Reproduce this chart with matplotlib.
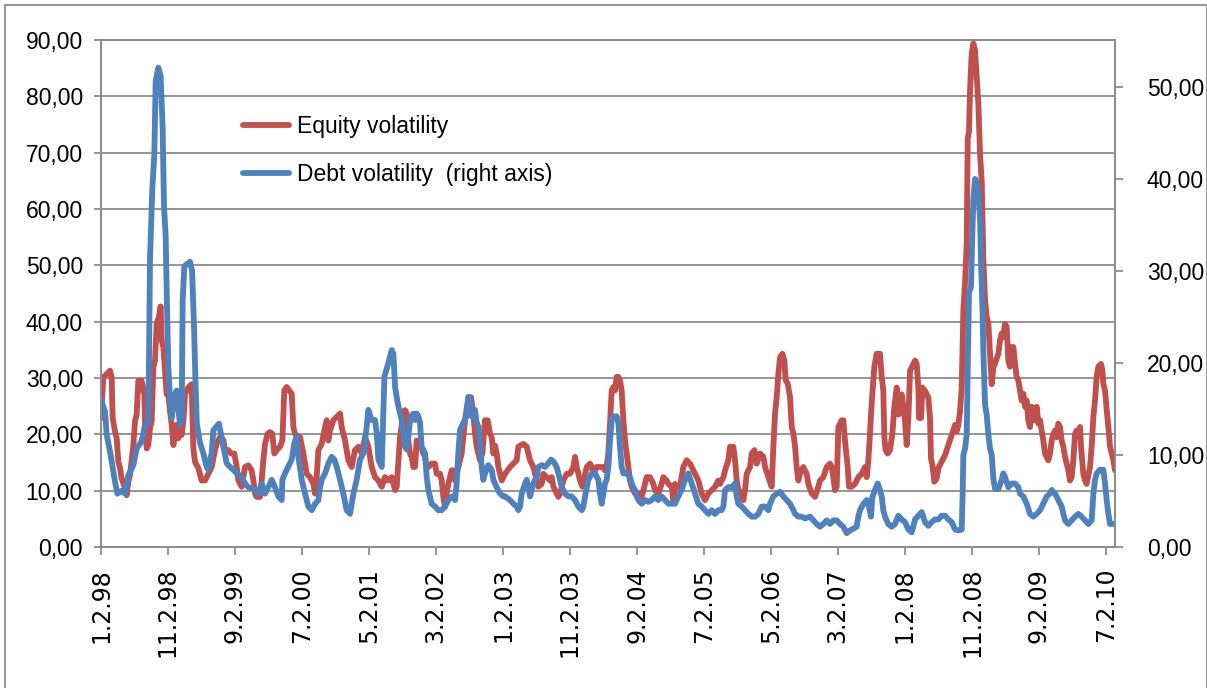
import matplotlib
matplotlib.use("Agg")
import matplotlib.pyplot as plt
import matplotlib.dates as mdates
from matplotlib.ticker import FuncFormatter, FixedLocator
from matplotlib.patches import Rectangle
import pandas as pd
import numpy as np

# ---------------- data (time in months since 2 Jan 1998) ----------------
equity_t = [0.0, 0.35, 0.85, 1.34, 1.59, 1.74, 2.09, 2.34, 2.59, 2.84, 3.08, 3.58, 3.83, 4.08, 4.33,
            4.83, 5.07, 5.32, 5.57, 6.07, 6.47, 6.57, 6.82, 7.06, 7.31, 7.56, 7.81, 8.06, 8.31, 8.66,
            8.9, 9.05, 9.3, 9.55, 9.8, 10.05, 10.3, 10.55, 10.8, 11.04, 11.29, 11.54, 11.79, 12.04,
            12.29, 12.54, 13.03, 13.53, 13.78, 14.03, 14.53, 15.02, 15.52, 16.02, 16.52, 17.01,
            17.26, 17.76, 18.26, 18.51, 19.0, 19.4, 19.9, 20.25, 20.5, 21.0, 21.49, 21.99, 22.49,
            22.74, 22.99, 23.23, 23.73, 23.98, 24.23, 24.48, 24.88, 25.22, 25.57, 25.87, 26.22,
            26.72, 27.07, 27.36, 27.71, 28.46, 28.71, 28.96, 29.45, 29.71, 30.2, 30.7, 31.2, 31.7,
            31.95, 32.19, 32.44, 32.94, 33.44, 33.69, 33.93, 34.18, 34.68, 35.18, 35.68, 35.92,
            36.42, 36.92, 37.42, 37.91, 38.41, 38.91, 39.41, 39.9, 40.4, 40.9, 41.4, 41.9, 42.39,
            42.89, 43.39, 43.89, 44.13, 44.63, 45.12, 45.37, 45.62, 45.87, 46.12, 46.37, 46.62,
            46.87, 47.11, 47.61, 48.11, 48.36, 48.61, 48.86, 49.35, 49.85, 50.1, 50.6, 50.85, 51.09,
            51.34, 51.59, 51.84, 52.34, 52.59, 52.84, 53.33, 53.83, 54.08, 54.33, 54.83, 55.22,
            55.57, 55.82, 56.07, 56.57, 56.92, 57.31, 57.71, 58.06, 58.31, 58.56, 58.81, 59.06,
            59.31, 59.8, 60.3, 61.05, 61.55, 62.04, 62.29, 63.04, 63.54, 64.03, 64.53, 64.78, 65.03,
            65.28, 65.78, 66.02, 66.52, 67.02, 67.27, 67.52, 68.01, 68.26, 68.51, 69.01, 69.51, 70.0,
            70.5, 70.75, 71.0, 71.5, 71.84, 72.14, 72.49, 72.99, 73.24, 73.49, 73.98, 74.48, 74.98,
            75.22, 75.47, 75.72, 75.97, 76.22, 76.47, 76.72, 76.96, 77.21, 77.46, 77.71, 77.96,
            78.21, 78.46, 78.71, 78.95, 79.2, 79.7, 80.2, 80.7, 81.19, 81.44, 81.94, 82.44, 82.69,
            83.18, 83.68, 83.93, 84.43, 84.68, 85.17, 85.42, 85.67, 85.92, 86.42, 86.91, 87.41,
            87.91, 88.16, 88.66, 89.16, 89.65, 90.15, 90.65, 91.15, 91.65, 92.14, 92.39, 92.89,
            93.14, 93.63, 93.88, 94.38, 94.63, 94.88, 95.13, 95.63, 95.87, 96.12, 96.37, 96.87,
            97.12, 97.52, 97.86, 98.36, 98.86, 99.11, 99.6, 100.1, 100.35, 100.6, 100.85, 101.1,
            101.35, 101.7, 101.99, 102.19, 102.49, 102.84, 103.09, 103.34, 103.59, 103.83, 104.08,
            104.33, 104.82, 105.32, 105.57, 106.07, 106.57, 107.06, 107.31, 107.81, 108.31, 108.8,
            109.05, 109.3, 109.55, 109.8, 110.05, 110.55, 110.79, 111.04, 111.44, 111.64, 112.04,
            112.54, 113.03, 113.53, 114.03, 114.28, 114.53, 114.77, 115.02, 115.42, 115.77, 116.27,
            116.52, 116.76, 116.91, 117.11, 117.41, 117.76, 118.11, 118.41, 118.76, 119.01, 119.26,
            119.5, 119.75, 120.0, 120.25, 120.5, 120.75, 121.0, 121.25, 121.5, 121.74, 121.99,
            122.09, 122.39, 122.59, 122.99, 123.49, 123.73, 123.88, 124.08, 124.38, 124.73, 124.98,
            125.23, 125.72, 125.97, 126.47, 126.97, 127.47, 127.71, 127.96, 128.21, 128.46, 128.71,
            128.96, 129.21, 129.36, 129.55, 129.7, 129.95, 130.2, 130.45, 130.7, 130.95, 131.2,
            131.45, 131.69, 131.94, 132.19, 132.44, 132.69, 132.94, 133.19, 133.44, 133.93, 134.18,
            134.43, 134.67, 134.92, 135.17, 135.42, 135.67, 135.92, 136.17, 136.42, 136.66, 136.91,
            137.16, 137.41, 137.66, 137.91, 138.16, 138.4, 138.65, 138.9, 139.15, 139.4, 139.65,
            139.9, 140.15, 140.4, 140.64, 140.89, 141.14, 141.39, 141.64, 141.89, 142.14, 142.39,
            142.63, 142.88, 143.13, 143.38, 143.63, 143.88, 144.13, 144.38, 144.62, 144.87, 145.12,
            145.37, 145.62, 145.87, 146.12, 146.27, 146.61, 146.86, 147.11, 147.61, 147.86, 148.11,
            148.36, 148.6, 148.85, 149.25, 149.45, 149.6, 149.85, 150.1, 150.35, 150.6, 150.85,
            151.1, 151.34]
equity_vol = [22.9, 30.1, 30.7, 31.3, 30.1, 22.9, 20.5, 19.3, 15.1, 14.0, 12.2, 10.4, 9.2, 11.6, 12.8,
              18.1, 22.3, 23.5, 29.5, 29.5, 27.1, 22.3, 17.5, 18.1, 21.1, 22.3, 31.9, 33.1, 39.7, 40.9,
              42.7, 36.7, 35.5, 31.3, 27.1, 27.1, 24.1, 21.7, 18.1, 19.9, 21.7, 19.3, 20.5, 19.9,
              22.3, 27.1, 28.3, 28.9, 17.5, 15.1, 14.0, 11.8, 11.8, 13.0, 14.2, 17.2,
              18.3, 19.5, 19.0, 17.2, 17.2, 16.6, 16.6, 14.2, 11.8, 10.7, 14.2, 14.5, 13.6,
              11.8, 9.5, 8.9, 8.9, 11.8, 15.4, 18.3, 20.1, 20.4, 20.1, 16.6, 17.2,
              17.8, 18.9, 27.8, 28.4, 27.2, 21.3, 20.1, 19.5, 19.5, 16.6, 13.0, 12.4, 11.2,
              9.5, 12.4, 17.2, 18.3, 21.3, 22.5, 18.9, 20.7, 22.5, 23.1, 23.7, 21.3,
              18.9, 15.4, 14.2, 17.2, 17.8, 16.6, 19.5, 17.8, 14.2, 12.4, 11.8, 10.7, 12.4,
              11.8, 12.4, 10.1, 10.7, 19.5, 23.7, 24.3, 23.7, 18.9, 16.6, 16.0, 14.2,
              14.2, 18.9, 18.3, 16.6, 16.0, 14.2, 14.2, 14.8, 14.8, 13.0, 13.0, 11.8, 8.9,
              7.1, 9.5, 11.2, 13.6, 13.6, 11.8, 14.2, 16.6, 19.5, 22.5, 26.6, 26.6,
              23.7, 20.1, 17.8, 15.4, 16.6, 22.5, 22.5, 20.1, 19.5, 16.6, 18.0, 16.6,
              14.2, 11.8, 13.0, 14.2, 14.8, 15.4, 17.8, 18.3, 17.8, 15.4, 14.2, 13.0, 11.8,
              10.7, 11.2, 13.0, 12.4, 11.8, 12.4, 10.7, 9.5, 8.9, 9.5, 11.8, 13.0, 13.0,
              14.2, 16.0, 14.2, 11.8, 10.7, 12.4, 14.2, 14.8, 14.2, 13.0, 14.2, 14.2, 14.2,
              13.6, 14.2, 16.6, 21.9, 27.8, 28.4, 27.8, 30.2, 30.2, 29.6, 27.8, 22.5,
              18.9, 16.6, 14.2, 11.8, 10.7, 9.5, 9.5, 8.9, 11.2, 12.4, 12.4, 11.2, 10.1,
              9.5, 11.2, 12.4, 11.8, 11.2, 10.7, 8.3, 11.2, 10.7, 10.7, 14.2, 15.4,
              14.8, 14.2, 13.0, 11.8, 9.5, 8.3, 9.5, 10.1, 10.7, 11.8, 11.2, 12.4,
              13.6, 15.4, 17.8, 17.8, 15.4, 11.8, 10.1, 9.5, 8.3, 10.1, 13.0, 14.2,
              16.6, 17.2, 14.8, 16.6, 16.0, 14.2, 12.4, 10.7, 17.8, 23.7, 26.6, 30.8,
              33.7, 34.3, 33.1, 29.6, 29.0, 26.6, 21.3, 20.1, 17.8, 14.2, 11.8,
              13.0, 14.2, 13.0, 11.2, 9.5, 8.9, 10.7, 11.8, 12.4, 14.2, 14.8,
              14.2, 12.4, 10.1, 10.7, 21.3, 22.5, 22.5, 18.9, 14.2, 10.7, 10.7,
              11.2, 12.4, 13.0, 14.2, 12.4, 15.4, 20.1, 25.4, 32.0, 34.3, 34.3,
              30.2, 27.8, 19.5, 17.2, 16.6, 17.2, 20.1, 24.9, 28.3, 23.5, 25.9,
              27.1, 24.7, 22.3, 18.1, 22.9, 31.3, 31.9, 32.5, 33.1, 32.5, 28.3,
              22.9, 22.9, 28.3, 27.7, 26.5, 22.9, 15.7, 14.6, 11.6, 12.2, 14.0,
              14.6, 15.7, 16.3, 18.1, 19.9, 21.7, 20.5, 21.7, 24.1, 28.3, 42.1,
              46.9, 54.1, 72.6, 73.7, 81.0, 87.6, 89.4, 88.2, 83.4, 78.6, 69.6,
              64.9, 51.1, 43.9, 40.9, 39.7, 34.3, 28.9, 31.9, 32.6, 34.3, 36.7,
              37.9, 37.3, 39.6, 39.1, 33.1, 32.0, 35.5, 35.5, 32.5, 30.2, 29.6,
              27.8, 26.0, 27.2, 24.9, 26.0, 22.5, 21.3, 24.9, 23.7, 22.5, 24.9,
              21.9, 22.5, 20.7, 18.9, 16.6, 16.0, 15.4, 16.6, 18.9, 20.1, 20.7,
              19.5, 21.9, 21.3, 18.9, 17.8, 16.0, 14.8, 13.6, 11.8, 12.4, 15.4,
              20.1, 20.7, 19.5, 21.3, 17.8, 13.0, 11.8, 11.2, 14.2, 17.8, 23.1,
              26.0, 30.2, 32.0, 32.5, 31.4, 29.0, 27.8, 24.3, 21.3, 17.8, 16.6,
              15.4, 13.6]

debt_t = [0.0, 0.6, 0.85, 1.34, 1.59, 2.09, 2.44, 3.08, 3.58, 4.08, 4.83, 5.32, 6.07, 6.57, 7.06,
          7.16, 7.31, 7.66, 7.96, 8.16, 8.56, 8.9, 9.2, 9.4, 9.65, 9.8, 10.05, 10.3, 10.55, 11.04,
          11.29, 11.79, 12.04, 12.19, 12.44, 13.28, 13.6, 13.9, 14.1, 14.3, 14.78, 15.27, 15.77,
          16.02, 16.52, 16.77, 17.26, 17.61, 18.26, 18.76, 19.25, 19.75, 20.25, 21.0, 21.49, 21.99,
          22.99, 23.48, 23.98, 24.48, 24.98, 25.47, 25.97, 26.47, 26.97, 27.07, 27.46, 28.46,
          28.86, 29.2, 29.46, 29.96, 30.45, 30.95, 31.45, 31.95, 32.44, 32.69, 32.94, 33.44, 33.94,
          34.43, 34.83, 35.18, 35.68, 36.17, 36.67, 37.17, 37.67, 38.16, 38.66, 39.16, 39.66,
          39.9, 40.4, 40.9, 41.15, 41.4, 41.9, 42.3, 42.89, 43.39, 43.64, 43.89, 44.13, 44.38,
          44.88, 45.37, 45.62, 45.87, 46.12, 46.62, 46.87, 47.11, 47.36, 47.61, 47.86, 48.36,
          48.61, 48.86, 49.35, 49.85, 50.35, 50.85, 51.34, 51.84, 52.34, 52.84, 53.08, 53.33,
          53.58, 54.08, 54.58, 54.83, 55.07, 55.32, 55.57, 55.82, 56.07, 56.32, 56.57, 56.82,
          57.06, 57.31, 57.81, 58.31, 58.56, 59.05, 59.55, 60.05, 60.3, 61.05, 61.55, 62.04,
          62.29, 62.54, 62.79, 63.29, 63.54, 63.78, 64.03, 64.28, 64.53, 64.78, 65.03, 65.28,
          65.78, 66.27, 66.77, 67.17, 67.52, 68.01, 68.26, 68.51, 68.76, 69.26, 69.75, 70.25,
          70.75, 71.25, 71.75, 72.0, 72.24, 72.74, 73.24, 73.74, 74.23, 74.48, 74.73, 74.97,
          75.22, 75.47, 75.72, 75.97, 76.22, 76.47, 76.96, 77.21, 77.46, 77.71, 77.96, 78.46,
          78.95, 79.2, 79.45, 79.7, 79.95, 80.2, 80.7, 81.19, 81.69, 82.19, 82.69, 83.18, 83.68,
          84.18, 84.68, 85.17, 85.67, 86.17, 86.67, 87.16, 87.66, 88.16, 88.66, 89.16, 89.65,
          90.15, 90.65, 91.15, 91.65, 92.14, 92.64, 92.89, 93.14, 93.63, 94.13, 94.63, 94.88,
          95.13, 95.63, 96.12, 96.62, 97.12, 97.61, 98.11, 98.61, 99.11, 99.6, 99.85, 100.35,
          100.85, 101.35, 101.84, 102.34, 102.84, 103.34, 103.59, 104.08, 104.58, 105.08, 105.82,
          106.32, 106.81, 107.31, 107.81, 108.31, 108.8, 109.3, 109.8, 110.3, 110.79, 111.29,
          111.79, 112.29, 112.78, 113.03, 113.28, 113.78, 114.28, 114.62, 114.92, 115.12, 115.52,
          115.92, 116.27, 116.52, 116.76, 117.01, 117.51, 118.01, 118.51, 119.01, 119.5, 120.0,
          120.5, 121.0, 121.5, 122.0, 122.49, 122.99, 123.49, 123.98, 124.48, 124.98, 125.48,
          125.97, 126.47, 126.97, 127.47, 127.96, 128.46, 128.61, 128.71, 128.96, 129.21, 129.36,
          129.55, 129.85, 130.05, 130.2, 130.45, 130.7, 130.95, 131.2, 131.35, 131.55, 131.69,
          131.94, 132.19, 132.44, 132.69, 132.94, 133.19, 133.44, 133.93, 134.43, 134.67, 134.92,
          135.42, 135.92, 136.42, 136.91, 137.16, 137.66, 138.16, 138.65, 139.15, 139.65, 140.15,
          140.64, 141.14, 141.64, 141.89, 142.39, 142.88, 143.38, 143.63, 143.88, 144.38, 144.87,
          145.37, 145.87, 146.37, 146.86, 147.36, 147.86, 148.11, 148.36, 148.6, 149.1, 149.6,
          149.85, 150.1, 150.35, 150.6, 151.1, 151.34]
debt_vol = [16.0, 14.7, 12.2, 10.4, 9.3, 7.1, 5.8, 6.1, 5.8, 7.8, 8.9, 10.7, 11.5, 13.3, 13.5,
            19.9, 31.2, 38.9, 42.7, 50.6, 52.1, 51.2, 45.5, 37.1, 33.8, 27.9, 19.5, 16.2, 14.0, 16.6,
            17.0, 13.3, 14.0, 26.8, 30.5, 31.0, 30.0, 23.5, 18.0, 13.4, 11.3, 10.2, 8.7,
            8.4, 10.2, 12.7, 13.1, 13.4, 10.9, 9.1, 8.7, 8.4, 8.0, 7.6, 6.9, 6.5,
            6.2, 5.8, 6.9, 5.8, 6.5, 7.3, 6.5, 5.5, 5.1, 7.3, 8.0, 9.5,
            11.3, 12.0, 9.8, 7.3, 5.8, 4.4, 4.0, 4.7, 5.1, 6.5, 7.3, 8.0, 9.1,
            9.8, 9.5, 8.7, 7.3, 5.8, 4.0, 3.6, 5.8, 7.3, 9.5, 10.2, 13.1,
            14.9, 13.8, 13.8, 12.4, 9.5, 8.7, 18.5, 20.0, 21.4, 21.0, 17.4, 16.3, 15.3,
            13.8, 10.9, 10.6, 12.0, 13.8, 14.5, 13.8, 14.5, 14.2, 13.5, 10.9, 10.2,
            7.6, 6.2, 4.7, 4.4, 4.0, 4.0, 4.4, 5.1, 5.5, 5.1, 6.9, 10.2,
            12.7, 13.5, 14.2, 16.3, 16.0, 14.2, 14.5, 14.9, 13.5, 13.1, 10.9, 8.7,
            7.3, 8.0, 8.9, 8.4, 7.3, 6.5, 5.8, 5.5, 5.5, 5.1, 4.7, 4.4,
            4.0, 4.4, 5.8, 6.9, 7.3, 6.5, 5.5, 6.2, 6.9, 7.3, 7.6, 8.7,
            8.9, 8.7, 9.1, 9.5, 9.3, 8.7, 8.0, 7.3, 6.5, 5.8, 5.5, 5.5,
            5.1, 4.4, 4.0, 4.4, 5.5, 7.3, 8.0, 8.0, 7.3, 5.8, 4.7, 5.8,
            6.9, 7.3, 8.7, 11.6, 13.8, 14.2, 14.2, 13.5, 10.9, 8.7, 8.0, 8.0,
            7.6, 6.9, 6.5, 6.2, 5.5, 5.1, 4.7, 5.1, 4.9, 5.1, 5.5, 5.1, 5.5,
            5.1, 4.7, 4.7, 4.7, 5.5, 6.2, 7.3, 8.0, 6.9, 5.8, 4.7, 4.4,
            4.0, 3.6, 4.0, 3.6, 4.0, 4.0, 4.4, 6.2, 6.5, 6.5, 6.9, 5.5,
            4.7, 4.4, 4.0, 3.6, 3.3, 3.3, 3.6, 4.4, 4.4, 4.0, 4.7, 5.5,
            5.8, 6.0, 5.5, 5.1, 4.7, 4.0, 3.6, 3.3, 3.3, 3.1, 3.3,
            2.9, 2.5, 2.2, 2.5, 2.9, 2.5, 2.9, 2.9, 2.5, 2.2, 1.5,
            1.8, 2.0, 2.2, 3.3, 4.0, 4.7, 5.1, 4.4, 3.3, 5.4, 6.2,
            6.9, 6.2, 5.5, 4.0, 3.3, 2.5, 2.2, 2.5, 3.4, 3.0, 2.7,
            1.9, 1.6, 3.0, 3.4, 3.8, 2.7, 2.3, 2.7, 3.0, 3.0, 3.4,
            3.4, 3.0, 2.7, 1.9, 1.8, 1.9, 6.0, 10.0, 10.7, 12.2, 19.5,
            27.6, 28.3, 34.1, 37.8, 40.0, 39.6, 38.5, 35.6, 30.8, 26.1, 21.3,
            15.5, 14.4, 12.2, 10.7, 10.0, 7.4, 6.3, 6.3, 7.3, 8.0, 7.6,
            6.5, 6.9, 6.9, 6.5, 5.8, 5.5, 4.7, 3.6, 3.3, 3.6, 4.0,
            4.7, 5.5, 5.8, 6.2, 5.8, 5.1, 4.4, 3.6, 2.9, 2.5, 2.9,
            3.3, 3.6, 3.3, 2.9, 2.5, 2.9, 5.8, 7.3, 8.0, 8.4, 8.4,
            6.9, 5.1, 3.6, 2.5, 2.5, 2.5]

xtick_labels = ['1.2.98', '11.2.98', '9.2.99', '7.2.00', '5.2.01', '3.2.02', '1.2.03', '11.2.03',
                '9.2.04', '7.2.05', '5.2.06', '3.2.07', '1.2.08', '11.2.08', '9.2.09', '7.2.10']
left_ticks = [0, 10, 20, 30, 40, 50, 60, 70, 80, 90]
right_ticks = [0, 10, 20, 30, 40, 50]
series_names = ['Equity volatility', 'Debt volatility  (right axis)']

# ---------------- helpers ----------------
start = pd.Timestamp('1998-01-02')
DAYS_PER_MONTH = 30.4375


def to_dates(months):
    return [start + pd.Timedelta(days=float(m) * DAYS_PER_MONTH) for m in months]


def parse_label(s):
    mo, d, y = s.split('.')
    return pd.Timestamp(year=2000 + int(y) if int(y) < 50 else 1900 + int(y), month=int(mo), day=int(d))


fmt_comma = FuncFormatter(lambda v, p: f"{v:.2f}".replace('.', ','))

RED = '#C0504D'
BLUE = '#4F81BD'
GRID = '#8C8C8C'

W, H = 1207, 688
fig = plt.figure(figsize=(W / 100, H / 100), dpi=100)
fig.patch.set_facecolor('white')

ax = fig.add_axes([101 / W, 1 - 547 / H, (1115 - 101) / W, (547 - 40) / H])
ax2 = ax.twinx()

l1, = ax.plot(to_dates(equity_t), equity_vol, color=RED, lw=4.2, solid_joinstyle='round',
              solid_capstyle='round')
l2, = ax2.plot(to_dates(debt_t), debt_vol, color=BLUE, lw=4.2, solid_joinstyle='round',
               solid_capstyle='round')

ax.set_ylim(0, 90)
ax2.set_ylim(0, 55.1)
ax.set_xlim(start, start + pd.Timedelta(days=151.34 * DAYS_PER_MONTH))

ax.yaxis.set_major_locator(FixedLocator(left_ticks))
ax2.yaxis.set_major_locator(FixedLocator(right_ticks))
ax.yaxis.set_major_formatter(fmt_comma)
ax2.yaxis.set_major_formatter(fmt_comma)

tick_dates = [parse_label(s) for s in xtick_labels]
ax.set_xticks([mdates.date2num(d) for d in tick_dates])
ax.set_xticklabels(xtick_labels, rotation=90, fontsize=17, family='DejaVu Sans')

ax.grid(axis='y', color=GRID, lw=1.3)
ax.set_axisbelow(True)

for a in (ax, ax2):
    for sp in a.spines.values():
        sp.set_color(GRID)
        sp.set_linewidth(1.3)

ax.tick_params(axis='y', direction='out', length=5, width=1.3, color=GRID, pad=8,
               labelsize=16.5, labelcolor='black')
ax2.tick_params(axis='y', direction='out', length=6, width=1.3, color=GRID, pad=17,
                labelsize=16.5, labelcolor='black')
ax.tick_params(axis='x', direction='out', length=6, width=1.3, color=GRID, pad=9,
               labelcolor='black')
for lab in ax.get_yticklabels() + ax2.get_yticklabels():
    lab.set_family('Liberation Sans')

leg = ax2.legend([l1, l2], series_names, loc='upper left',
                 bbox_to_anchor=((243 - 101) / 1014, (547 - 115) / 507),
                 frameon=False, borderpad=0, borderaxespad=0, handlelength=2.0,
                 handletextpad=0.35, labelspacing=1.1,
                 prop={'family': 'Liberation Sans', 'size': 16.5})

# outer chart-area frame
fig.patches.append(Rectangle((5 / W, -0.01), (W - 5.5) / W, 1 - 5 / H + 0.01,
                             transform=fig.transFigure, fill=False, edgecolor=GRID, lw=1.3))

fig.savefig('out.png', dpi=100)
